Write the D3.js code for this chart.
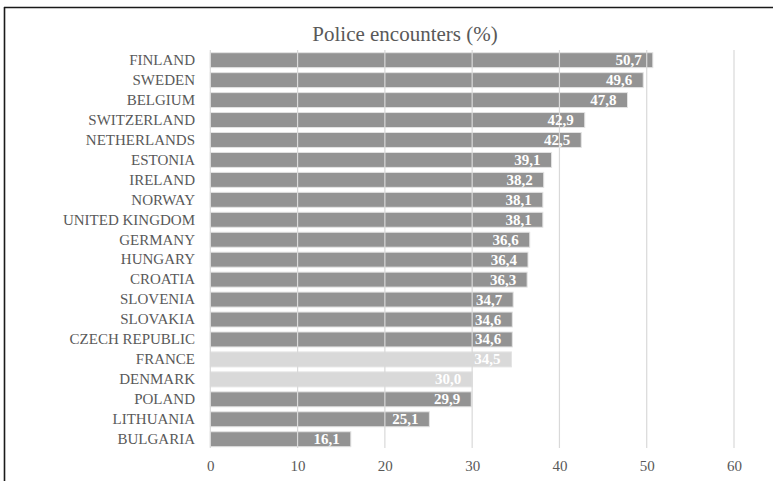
<!DOCTYPE html>
<html>
<head>
<meta charset="utf-8">
<script src="https://cdn.jsdelivr.net/npm/d3@7/dist/d3.min.js"></script>
<style>
  html, body { margin: 0; padding: 0; background: #ffffff; }
  svg { display: block; }
</style>
</head>
<body>
<svg id="chart" width="773" height="481"></svg>
<script>
// Share of respondents reporting a police encounter, by country
const countries = [
  "FINLAND", "SWEDEN", "BELGIUM", "SWITZERLAND", "NETHERLANDS", "ESTONIA",
  "IRELAND", "NORWAY", "UNITED KINGDOM", "GERMANY", "HUNGARY", "CROATIA",
  "SLOVENIA", "SLOVAKIA", "CZECH REPUBLIC", "FRANCE", "DENMARK", "POLAND",
  "LITHUANIA", "BULGARIA"
];
const values = [
  50.7, 49.6, 47.8, 42.9, 42.5, 39.1,
  38.2, 38.1, 38.1, 36.6, 36.4, 36.3,
  34.7, 34.6, 34.6, 34.5, 30.0, 29.9,
  25.1, 16.1
];
// Countries drawn in the lighter shade
const highlighted = ["FRANCE", "DENMARK"];
const xTicks = [0, 10, 20, 30, 40, 50, 60];
const chartTitle = "Police encounters (%)";

const data = countries.map((c, i) => ({ country: c, value: values[i] }));

const svg = d3.select("#chart");
const font = "'Liberation Serif', 'Times New Roman', serif";

const x = d3.scaleLinear().domain([0, 60]).range([210.3, 734]);
const y = d3.scaleBand().domain(countries).range([50.2, 449.2]).paddingInner(0.25).paddingOuter(0.125);

// Frame edges
svg.append("line").attr("x1", 4).attr("x2", 773).attr("y1", 7.5).attr("y2", 7.5)
  .attr("stroke", "#1a1a1a").attr("stroke-width", 1.6);
svg.append("line").attr("x1", 4.5).attr("x2", 4.5).attr("y1", 7).attr("y2", 481)
  .attr("stroke", "#1a1a1a").attr("stroke-width", 1.6);

// Title
svg.append("text")
  .attr("x", 405).attr("y", 41)
  .attr("text-anchor", "middle")
  .attr("font-family", font).attr("font-size", 21)
  .attr("fill", "#595959")
  .text(chartTitle);

// Bars
svg.append("g").selectAll("rect")
  .data(data).join("rect")
  .attr("x", x(0))
  .attr("y", d => y(d.country))
  .attr("width", d => x(d.value) - x(0))
  .attr("height", y.bandwidth())
  .attr("fill", d => highlighted.includes(d.country) ? "#d9d9d9" : "#939393")
  .attr("stroke", "#e3e3e3").attr("stroke-width", 1);

// Vertical gridlines, drawn over the bars
const gridTop = 50, gridBottom = 448;
svg.append("g").selectAll("line")
  .data(xTicks).join("line")
  .attr("x1", d => x(d)).attr("x2", d => x(d))
  .attr("y1", gridTop).attr("y2", gridBottom)
  .attr("stroke", "#d9d9d9").attr("stroke-width", 1.2);

// Value labels inside bar ends
svg.append("g").selectAll("text")
  .data(data).join("text")
  .attr("x", d => x(d.value) - 11)
  .attr("y", d => y(d.country) + y.bandwidth() / 2 + 5)
  .attr("text-anchor", "end")
  .attr("font-family", font).attr("font-size", 15).attr("font-weight", "bold")
  .attr("fill", "#ffffff")
  .text(d => d3.format(".1f")(d.value).replace(".", ","));

// Category axis
const yAxis = d3.axisLeft(y).tickSize(0).tickPadding(0);
const gy = svg.append("g").attr("transform", `translate(195,0)`).call(yAxis);
gy.select(".domain").remove();
gy.selectAll("text")
  .attr("font-family", font).attr("font-size", 15)
  .attr("fill", "#595959");

// Value axis
const xAxis = d3.axisBottom(x).tickValues(xTicks).tickSize(0).tickPadding(0);
const gx = svg.append("g").attr("transform", `translate(0,460)`).call(xAxis);
gx.select(".domain").remove();
gx.selectAll("text")
  .attr("font-family", font).attr("font-size", 15)
  .attr("fill", "#595959");
</script>
</body>
</html>
